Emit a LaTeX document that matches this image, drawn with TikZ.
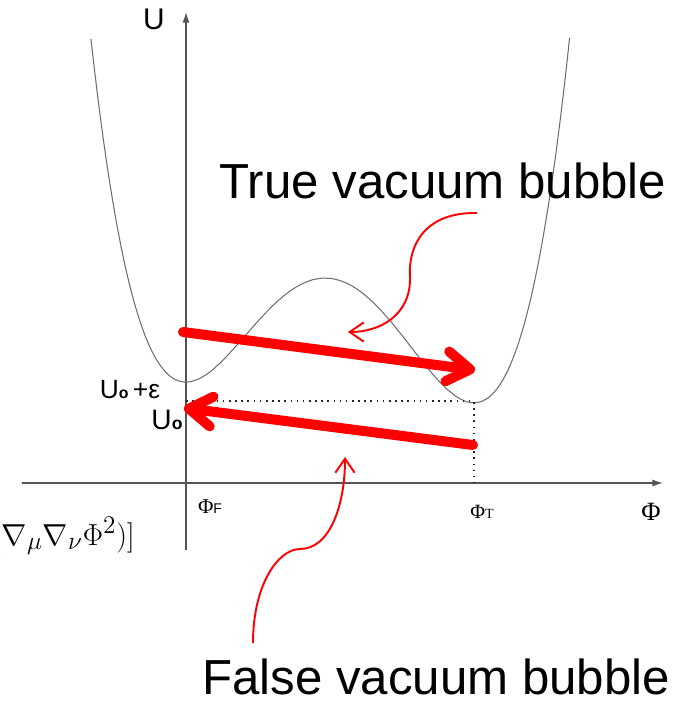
\documentclass[tikz,border=0pt]{standalone}
\usepackage{fontspec}
\setmainfont{Liberation Sans}
\newfontfamily\phifont{Liberation Serif}
\usetikzlibrary{arrows.meta,positioning}
\definecolor{cJump}{RGB}{255,0,0}
\definecolor{cAxis}{RGB}{85,85,85}
\definecolor{cCurve}{RGB}{110,110,110}

\begin{document}
\begin{tikzpicture}[x=0.02cm,y=-0.02cm,
    axis/.style={draw=cAxis,line width=0.8pt,-{Latex[length=6pt,width=4pt]}},
    guide/.style={draw=black!85,line width=0.8pt,dash pattern=on 0.9pt off 2.6pt},
    jump/.style={cJump,line width=5.7pt,line cap=round,-{Straight Barb[round,length=13pt,width=17pt]}},
    pointer/.style={cJump,line width=1.1pt,-{Straight Barb[length=8pt,width=11pt]}},
    bigtext/.style={font=\fontsize{28}{30}\selectfont},
  ]
  \useasboundingbox (0,0) rectangle (689,704);

  % axes
  \coordinate (ybot) at (186,550);
  \coordinate (ytop) at (186,12);
  \coordinate (xleft) at (22,483);
  \coordinate (xright) at (663,483);
  \draw[axis] (ybot) -- (ytop);
  \draw[axis] (xleft) -- (xright);

  % potential U(Phi)
  \draw[cCurve,line width=0.6pt] plot[domain=-0.33:1.332,samples=160,smooth,variable=\u]
    ({186+288*\u},{382-7300*(0.25*\u*\u*\u*\u-0.49433*\u*\u*\u+0.2415*\u*\u)});

  \coordinate (minF) at (186,401);
  \coordinate (minT) at (474,401);
  \coordinate (footT) at (474,482);
  \draw[guide] (minF) -- (minT) -- (footT);

  \node[font=\fontsize{17}{17}\selectfont] (ulbl) at (154,19) {U};
  \node[font=\fontsize{15}{15}\selectfont] (ueps) at (130,390) {U{\bfseries\fontsize{9}{9}\selectfont o}\,+ε};
  \node[font=\fontsize{16}{16}\selectfont] (uzero) at (167,420) {U{\bfseries\fontsize{10}{10}\selectfont o}};
  \node[font=\phifont\fontsize{15}{15}\selectfont] (philbl) at (651,512) {Φ};
  \node (phiT) at (482,512) {{\phifont\fontsize{11.5}{12}\selectfont Φ}{\phifont\fontsize{8}{8}\selectfont T}};
  \node (phiF) at (210,507) {{\phifont\fontsize{12}{12}\selectfont Φ}{\fontsize{8}{8}\selectfont F}};
  \node[anchor=base east,font=\fontsize{19}{19}\selectfont] (eqpart) at (141,545) {$(\nabla_{\mu}\nabla_{\nu}\Phi^2)]$};

  % bubble transitions
  \coordinate (jumpA) at (183,332);
  \coordinate (jumpB) at (475,370);
  \coordinate (backA) at (473,445);
  \coordinate (backB) at (184,408);
  \draw[jump] (jumpA) -- (jumpB);
  \draw[jump] (backA) -- (backB);

  \node[bigtext] (truelbl) at (443,181) {True vacuum bubble};
  \node[bigtext] (falselbl) at (436,677) {False vacuum bubble};

  \coordinate (tvs) at (477,213);
  \coordinate (tve) at (348,332);
  \coordinate (fvs) at (253,643);
  \coordinate (fve) at (345,457);
  \draw[pointer] (tvs) .. controls (425,212) and (408,245) .. (410,277)
    .. controls (411,315) and (380,332) .. (tve);
  \draw[pointer] (fvs) .. controls (253,585) and (278,549) .. (300,549)
    .. controls (330,549) and (345,505) .. (fve);
\end{tikzpicture}
\end{document}
